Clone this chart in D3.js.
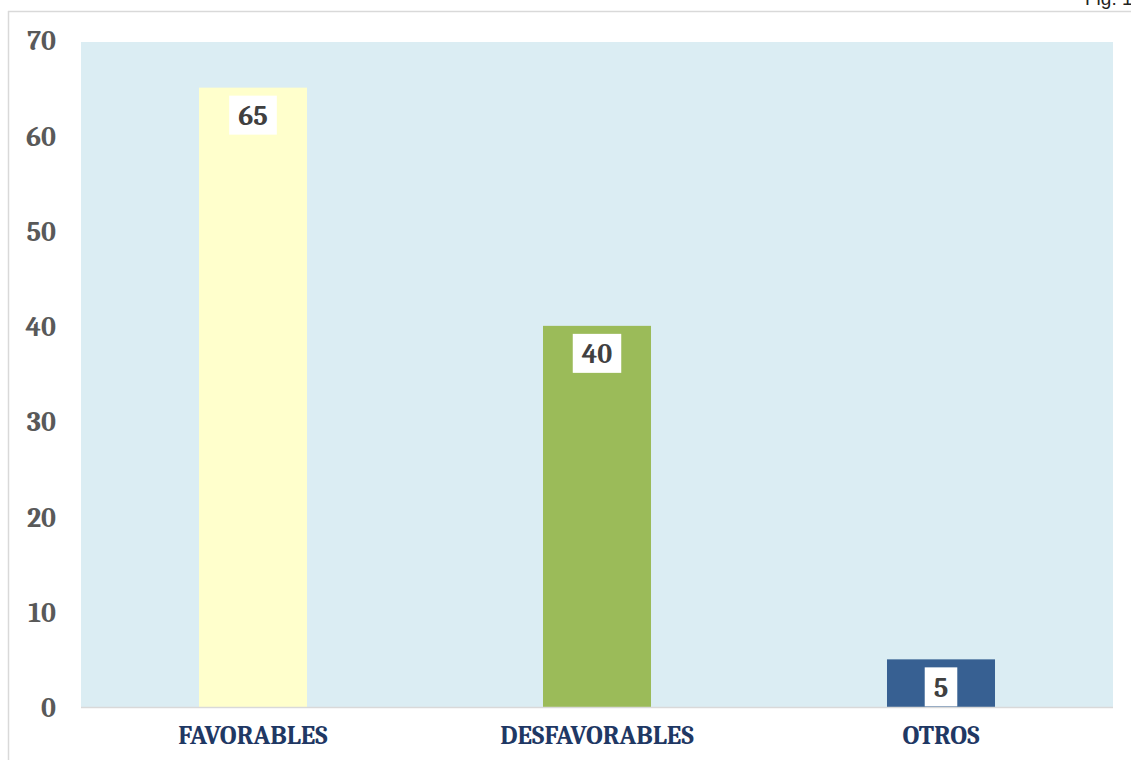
<!DOCTYPE html>
<html>
<head>
<meta charset="utf-8">
<script src="https://cdn.jsdelivr.net/npm/d3@7"></script>
<style>
  body { margin: 0; background: #fff; overflow: hidden; }
  svg text { font-family: Cambria, "Liberation Serif", "DejaVu Serif", serif; font-weight: bold; }
</style>
</head>
<body>
<div id="chart"></div>
<script>
const categories = ["FAVORABLES", "DESFAVORABLES", "OTROS"];
const values = [65, 40, 5];
const barColors = ["#FFFFCC", "#9BBB59", "#376092"];
const yTicks = [0, 10, 20, 30, 40, 50, 60, 70];

const width = 1131;
const height = 760;
const margin = { top: 40, right: 18, bottom: 53, left: 81 };

const svg = d3
  .select("#chart")
  .append("svg")
  .attr("width", width)
  .attr("height", height);

// frame lines (page border)
svg.append("line")
  .attr("x1", 8).attr("x2", width).attr("y1", 11.5).attr("y2", 11.5)
  .attr("stroke", "#d9d9d9").attr("stroke-width", 1.5);
svg.append("line")
  .attr("x1", 8.5).attr("x2", 8.5).attr("y1", 11).attr("y2", height)
  .attr("stroke", "#d9d9d9").attr("stroke-width", 1.5);

svg.append("text")
  .attr("x", 1085).attr("y", 5)
  .style("font-family", "'Liberation Sans', 'Open Sans', sans-serif")
  .style("font-weight", "normal")
  .attr("font-size", "19px")
  .attr("fill", "#222")
  .text("Fig. 1");

const x = d3
  .scaleBand()
  .domain(categories)
  .range([margin.left, width - margin.right])
  .paddingInner(0.686)
  .paddingOuter(0.343);

const y = d3
  .scaleLinear()
  .domain([0, 70])
  .range([height - margin.bottom, margin.top]);

// plot background
svg.append("rect")
  .attr("x", margin.left)
  .attr("y", y(70) + 2)
  .attr("width", width - margin.right - margin.left)
  .attr("height", y(0) - y(70) - 2)
  .attr("fill", "#DBEDF3");

// bars
svg.selectAll(".bar")
  .data(values)
  .join("rect")
  .attr("class", "bar")
  .attr("x", (d, i) => x(categories[i]))
  .attr("y", (d) => y(d))
  .attr("width", x.bandwidth())
  .attr("height", (d) => y(0) - y(d))
  .attr("fill", (d, i) => barColors[i]);

// baseline
svg.append("line")
  .attr("x1", margin.left).attr("x2", width - margin.right)
  .attr("y1", y(0) + 0.5).attr("y2", y(0) + 0.5)
  .attr("stroke", "#d9d9d9").attr("stroke-width", 1.5);

// y axis labels
const yAxis = d3.axisLeft(y).tickValues(yTicks).tickSize(0).tickPadding(0);
const gy = svg.append("g")
  .attr("transform", `translate(56,0)`)
  .call(yAxis);
gy.select(".domain").remove();
gy.selectAll("text")
  .attr("font-size", "28px")
  .attr("fill", "#595959")
  .attr("text-anchor", "end")
  .attr("dy", "0.35em")
  .style("font-family", "Cambria, 'Liberation Serif', 'DejaVu Serif', serif");

// x axis labels
const xAxis = d3.axisBottom(x).tickSize(0).tickPadding(0);
const gx = svg.append("g")
  .attr("transform", `translate(0,${y(0) + 19})`)
  .call(xAxis);
gx.select(".domain").remove();
gx.selectAll("text")
  .attr("font-size", "26px")
  .attr("fill", "#1F3864")
  .attr("dy", "0.71em")
  .style("font-family", "Cambria, 'Liberation Serif', 'DejaVu Serif', serif");

// value labels
const labels = svg.selectAll(".vlabel")
  .data(values)
  .join("g")
  .attr("class", "vlabel")
  .attr("transform", (d, i) => `translate(${x(categories[i]) + x.bandwidth() / 2},${y(d) + 8})`);

labels.append("text")
  .attr("y", 19.5)
  .attr("dy", "0.35em")
  .attr("text-anchor", "middle")
  .attr("font-size", "28px")
  .attr("fill", "#404040")
  .text((d) => d);

labels.each(function () {
  const g = d3.select(this);
  const bb = g.select("text").node().getBBox();
  const w = Math.max(bb.width + 18, 32);
  g.insert("rect", "text")
    .attr("x", -w / 2)
    .attr("y", 0)
    .attr("width", w)
    .attr("height", 39)
    .attr("fill", "#fff");
});
</script>
</body>
</html>
